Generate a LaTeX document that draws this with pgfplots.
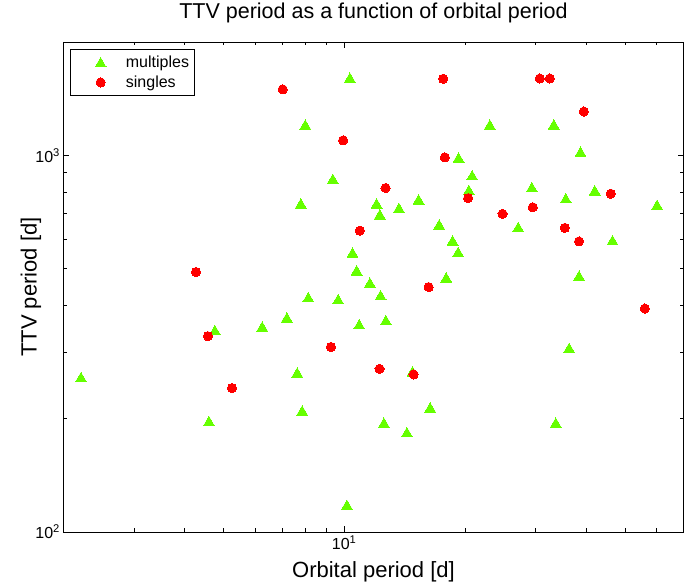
\documentclass[border=0pt]{standalone}
\usepackage{fontspec}
\setmainfont{Liberation Sans}
\usepackage{pgfplots}
\pgfplotsset{compat=1.18}
\definecolor{mgreen}{RGB}{102,255,0}
\definecolor{sred}{RGB}{255,0,0}
\pgfplotsset{dotlegend/.style={legend image code/.code={\path (0pt,0pt) (55pt,0pt); \draw[##1] plot coordinates {(30pt,0pt)};}}}

\begin{document}
\begin{tikzpicture}
\useasboundingbox (-63.5pt,-56pt) rectangle (629.5pt,532pt);
\begin{axis}[
  at={(0pt,0pt)}, anchor=south west,
  scale only axis, width=620pt, height=490pt,
  xmode=log, ymode=log,
  xmin=2, xmax=70, ymin=100, ymax=2000,
  xtick={10}, xticklabels={10\textsuperscript{1}},
  ytick={100,1000}, yticklabels={10\textsuperscript{2},10\textsuperscript{3}},
  minor xtick={2,3,4,5,6,7,8,9,20,30,40,50,60},
  minor ytick={200,300,400,500,600,700,800,900},
  tick align=inside, major tick length=6pt, minor tick length=3.5pt,
  tick style={black, line width=0.6pt},
  axis line style={line width=0.8pt},
  tick label style={font=\fontsize{16}{18}\selectfont},
  title={TTV period as a function of orbital period},
  title style={at={(axis description cs:0.5,1.0347)}, anchor=base, font=\fontsize{21.5}{24}\selectfont},
  xlabel={Orbital period [d]},
  xlabel style={at={(axis description cs:0.5,-0.0816)}, anchor=center, font=\fontsize{22}{25}\selectfont},
  ylabel={TTV period [d]},
  ylabel style={at={(axis description cs:-0.0524,0.5)}, anchor=center, font=\fontsize{22}{25}\selectfont},
  legend style={at={(axis description cs:0.0105,0.9857)}, anchor=north west,
    draw=black, line width=0.6pt, font=\fontsize{16}{18}\selectfont,
    inner xsep=0pt, inner ysep=3pt, row sep=0pt, column sep=0pt,
    nodes={inner xsep=0pt, inner ysep=3.5pt}},
  legend cell align=left,
]
\addplot[only marks, mark=triangle*, mark size=6.3pt,
  mark options={fill=mgreen, draw=mgreen, line width=0pt, yshift=-1.5pt},
  dotlegend]
coordinates {
(2.211,257.7) (4.765,343.4) (4.605,197.0) (10.33,1607) (8.00,1206)
(23.05,1206) (19.27,986) (20.83,885) (9.37,866) (20.44,809)
(7.80,745) (12.04,745) (15.32,764) (13.69,725) (12.27,697)
(27.12,645) (17.24,655) (18.62,594) (19.22,554) (10.49,552)
(10.74,495) (11.59,459) (17.95,474) (8.14,420) (9.66,415)
(12.32,425) (7.20,371) (6.25,351) (10.90,356) (12.70,365)
(14.80,267) (7.64,265) (7.86,210) (16.37,214) (12.56,195)
(14.33,184) (10.16,118) (38.78,1022) (42.08,807) (35.64,769)
(60.15,739) (46.58,595) (38.46,479) (36.32,308) (33.27,1208)
(29.33,823) (33.65,195)
};
\addlegendentry{multiples\hspace*{5pt}}
\addplot[only marks, mark=*, mark size=4.6pt,
  mark options={fill=sred, draw=sred, line width=0pt},
  dotlegend]
coordinates {
(7.03,1497) (17.64,1597) (9.94,1096) (17.81,988) (12.68,819)
(20.36,770) (24.80,699) (10.94,631) (16.23,447) (9.27,310)
(12.25,271) (14.89,262) (4.274,490) (4.578,331) (5.255,241)
(30.70,1600) (32.51,1600) (39.52,1307) (46.12,791) (35.44,642)
(38.46,591) (56.06,392) (29.49,728)
};
\addlegendentry{singles}
\end{axis}
\end{tikzpicture}
\end{document}
